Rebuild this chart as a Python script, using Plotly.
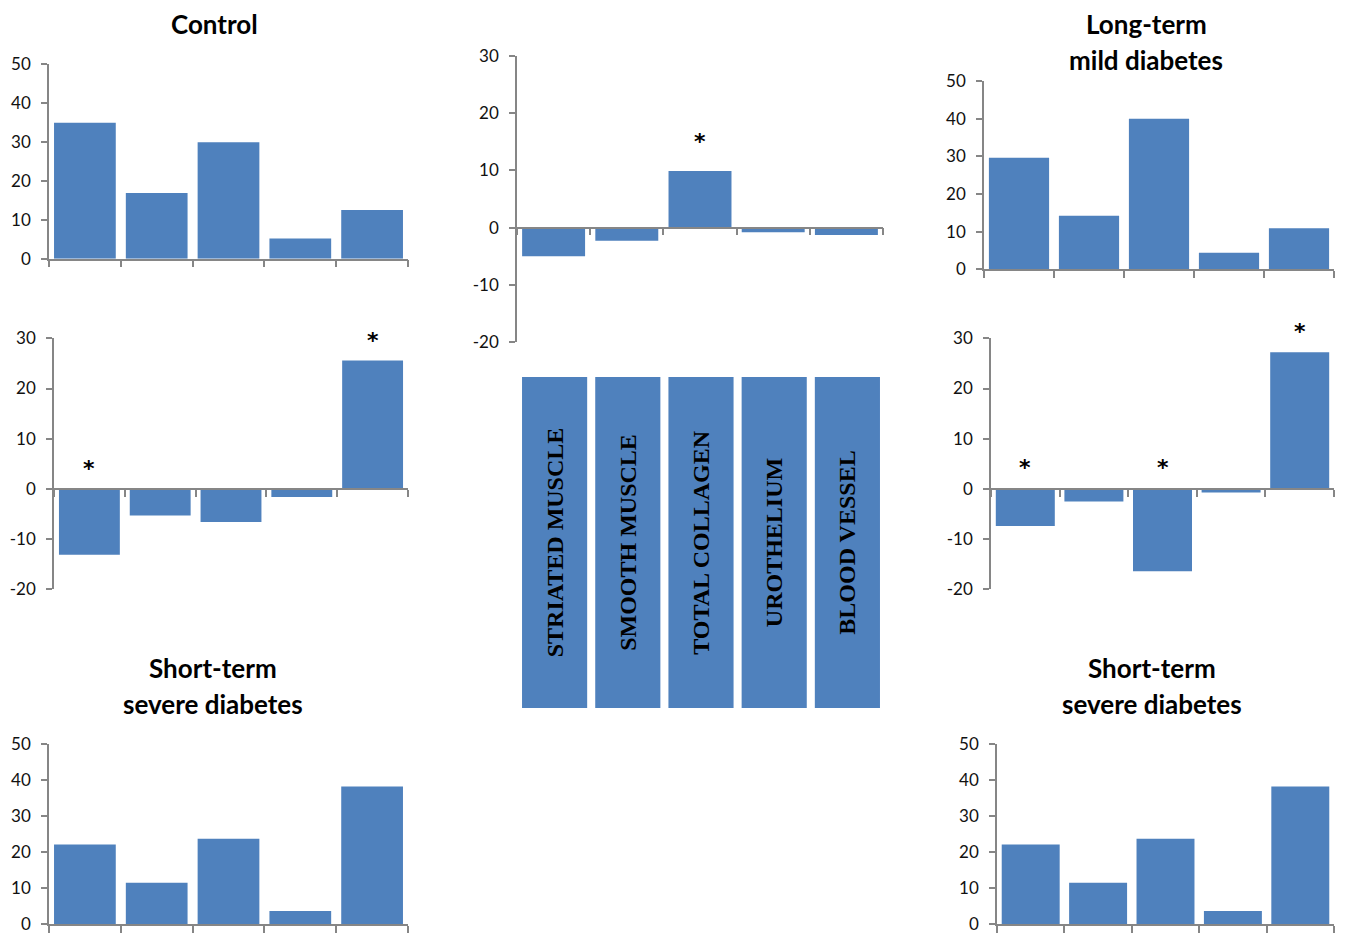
import plotly.graph_objects as go

# ---- data -------------------------------------------------------------
tissues = ["STRIATED MUSCLE", "SMOOTH MUSCLE", "TOTAL COLLAGEN", "UROTHELIUM", "BLOOD VESSEL"]

control = [34.9, 16.9, 29.9, 5.2, 12.5]
long_term_mild = [29.6, 14.2, 40.0, 4.4, 10.9]
short_term_severe = [22.1, 11.5, 23.7, 3.7, 38.2]

change_long_vs_control = [-5.0, -2.3, 9.9, -0.8, -1.3]
change_severe_vs_control = [-13.1, -5.3, -6.6, -1.6, 25.6]
change_severe_vs_long = [-7.4, -2.5, -16.4, -0.7, 27.2]

sig_long_vs_control = [0, 0, 1, 0, 0]
sig_severe_vs_control = [1, 0, 0, 0, 1]
sig_severe_vs_long = [1, 0, 1, 0, 1]

# ---- style ------------------------------------------------------------
W, H = 1346, 938
BLUE = "#4F81BD"
AXIS = "#868686"
SANS = "Lato"
SERIF = "Liberation Serif"


def px_x(a, b):
    return [a / W, b / W]


def px_y(top, bottom):
    return [1 - bottom / H, 1 - top / H]


fig = go.Figure()

# each panel: plot box in pixels (left, right, top, bottom) and value range
panels = [
    dict(vals=control, box=(49, 408, 64, 258.7), yr=[0, 50], sig=None, shift=0),
    dict(vals=change_long_vs_control, box=(517, 883, 56, 342), yr=[-20, 30],
         sig=sig_long_vs_control, shift=34),
    dict(vals=long_term_mild, box=(984, 1334, 81, 269.3), yr=[0, 50], sig=None, shift=0),
    dict(vals=change_severe_vs_control, box=(54, 408, 338.3, 589.3), yr=[-20, 30],
         sig=sig_severe_vs_control, shift=25),
    dict(vals=change_severe_vs_long, box=(991, 1334, 338.3, 589.3), yr=[-20, 30],
         sig=sig_severe_vs_long, shift=26),
    dict(vals=short_term_severe, box=(49, 408, 744, 924.3), yr=[0, 50], sig=None, shift=0),
    dict(vals=short_term_severe, box=(997, 1334, 744, 924.3), yr=[0, 50], sig=None, shift=0),
]

layout_axes = {}
annotations = []
for k, p in enumerate(panels, start=1):
    xl, xr, yt, yb = p["box"]
    y0, y1 = p["yr"]
    zero_px = yb - (0 - y0) / (y1 - y0) * (yb - yt)
    xname = "x" if k == 1 else f"x{k}"
    yname = "y" if k == 1 else f"y{k}"
    fig.add_trace(go.Bar(
        x=list(range(len(p["vals"]))), y=p["vals"], width=0.86,
        marker=dict(color=BLUE, line=dict(width=0)),
        xaxis=xname, yaxis=yname, showlegend=False, hoverinfo="y",
    ))
    xa = dict(
        domain=px_x(xl, xr), range=[-0.5, 4.5], showgrid=False, zeroline=False,
        showline=True, linecolor=AXIS, linewidth=1.5, ticks="outside", ticklen=7,
        tickcolor=AXIS, tickwidth=1.5, tickvals=[-0.5, 0.5, 1.5, 2.5, 3.5, 4.5],
        showticklabels=False, fixedrange=True, automargin=False,
    )
    if y0 < 0:
        xa.update(anchor="free", position=1 - zero_px / H)
    else:
        xa.update(anchor=yname)
    yticks = list(range(y0, y1 + 1, 10))
    ya = dict(
        domain=px_y(yt, yb), range=[y0, y1], showgrid=False, zeroline=False,
        tickvals=yticks, ticktext=[str(t) for t in yticks],
        showline=True, linecolor=AXIS, linewidth=1.5, ticks="outside", ticklen=6,
        tickcolor=AXIS, tickwidth=1.5, anchor=xname, ticklabelstandoff=7,
        tickfont=dict(family=SANS, size=17, color="#111111"), fixedrange=True,
        automargin=False,
    )
    layout_axes["xaxis" if k == 1 else f"xaxis{k}"] = xa
    layout_axes["yaxis" if k == 1 else f"yaxis{k}"] = ya

    if p["sig"]:
        for i, (v, s) in enumerate(zip(p["vals"], p["sig"])):
            if s:
                annotations.append(dict(
                    x=i, y=max(v, 0), xref=xname, yref=yname, text="*",
                    showarrow=False, yanchor="middle", yshift=p["shift"] - 5,
                    font=dict(family="DejaVu Sans", size=22, color="black", weight="bold"),
                ))

# tissue key: labelled boxes in the centre
fig.add_trace(go.Bar(
    x=list(range(len(tissues))), y=[1] * len(tissues), width=0.89,
    text=tissues, textposition="inside", insidetextanchor="middle", textangle=-90,
    textfont=dict(family=SERIF, size=24, color="black", weight="bold"),
    marker=dict(color=BLUE, line=dict(width=0)),
    xaxis="x8", yaxis="y8", showlegend=False, hoverinfo="text",
))
layout_axes["xaxis8"] = dict(domain=px_x(518, 884), range=[-0.5, 4.5], visible=False,
                             anchor="y8", fixedrange=True, automargin=False)
layout_axes["yaxis8"] = dict(domain=px_y(377, 708), range=[0, 1], visible=False,
                             anchor="x8", fixedrange=True, automargin=False)

# panel titles
title_font = dict(family=SANS, size=26, color="black", weight="bold")
for text, cx, cy in [
    ("Control", 214, 24),
    ("Long-term", 1146, 24),
    ("mild diabetes", 1146, 60),
    ("Short-term", 213, 668),
    ("severe diabetes", 213, 704),
    ("Short-term", 1152, 668),
    ("severe diabetes", 1152, 704),
]:
    annotations.append(dict(
        x=cx / W, y=1 - cy / H, xref="paper", yref="paper", text=text,
        showarrow=False, xanchor="center", yanchor="middle", font=title_font,
    ))

fig.update_layout(
    template="none",
    width=W, height=H, autosize=False,
    margin=dict(l=0, r=0, t=0, b=0),
    paper_bgcolor="white", plot_bgcolor="white",
    annotations=annotations, bargap=0.14,
    **layout_axes,
)

fig.write_html("out.html")
